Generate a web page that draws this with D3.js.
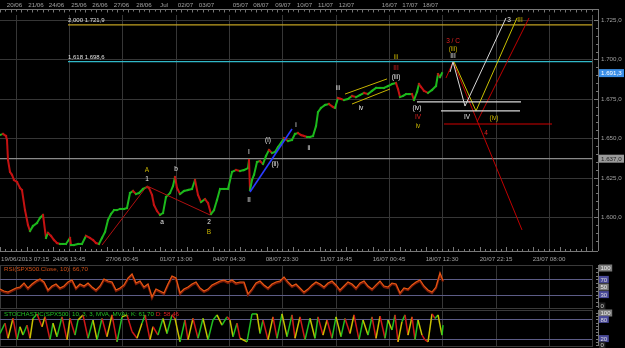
<!DOCTYPE html>
<html><head><meta charset="utf-8">
<script src="https://cdn.jsdelivr.net/npm/d3@7"></script>
<style>body{margin:0;background:#000}svg{display:block;will-change:transform}text{font-family:"Liberation Sans",Arial,sans-serif}</style>
</head><body><svg id="c" width="625" height="348"></svg>
<script>
// ---------- DATA ----------
const priceBars = [0,3,6,7,8,10,12,14,17,20,22,25,28,30,33,37,40,43,46,48,51,54,57,60,63,66,70,71,74,78,82,86,90,93,96,99,102,105,108,111,114,117,120,124,127,130,133,136,139,143,147,149,152,154,157,160,163,166,170,173,175,177,180,184,188,192,195,198,201,205,208,211,214,217,220,224,228,232,236,240,244,248,249,250,252,254,257,260,263,266,269,272,275,278,281,284,288,292,295,298,301,304,307,310,313,316,318,321,325,329,333,335,338,341,344,348,352,356,360,364,368,372,376,380,384,388,392,396,398,400,403,406,409,412,414,417,419,421,424,428,432,436,438,440,442];
const priceClose = [1652.0,1652.7,1651.4,1648.9,1636.2,1628.6,1626.7,1623.5,1622.2,1618.4,1617.1,1604.4,1594.9,1591.1,1594.3,1596.2,1599.4,1601.3,1586.7,1589.9,1588.0,1585.4,1583.5,1582.9,1582.9,1582.9,1586.7,1582.2,1582.2,1582.9,1582.9,1588.0,1586.7,1585.4,1583.5,1582.9,1586.7,1590.5,1598.1,1601.9,1604.4,1604.4,1605.1,1605.1,1605.7,1615.2,1616.5,1614.6,1615.2,1617.8,1619.0,1618.4,1614.0,1607.6,1603.8,1601.3,1602.5,1612.7,1615.2,1619.7,1625.4,1618.4,1614.6,1616.5,1617.1,1617.8,1623.5,1614.0,1609.5,1611.4,1608.9,1601.9,1604.4,1610.8,1617.8,1617.8,1617.8,1628.6,1629.8,1629.2,1629.8,1631.1,1636.2,1617.1,1623.5,1626.7,1634.9,1635.5,1633.6,1638.7,1642.5,1640.6,1641.2,1644.4,1647.0,1650.1,1648.2,1648.9,1652.7,1653.3,1652.0,1651.4,1650.8,1650.8,1651.4,1657.7,1666.6,1669.2,1671.1,1671.7,1669.8,1669.2,1675.5,1674.9,1674.2,1674.9,1676.8,1676.1,1677.4,1678.7,1678.0,1680.0,1681.9,1681.9,1681.9,1683.1,1684.4,1685.0,1681.2,1676.1,1676.8,1678.0,1678.0,1678.0,1674.2,1679.3,1684.4,1682.5,1680.0,1678.7,1680.6,1683.1,1690.7,1688.8,1691.3];

const rsiBars = [0,4,8,12,16,20,24,28,32,36,40,44,48,52,56,60,64,68,72,76,80,84,88,92,96,100,104,108,112,116,120,124,128,132,136,140,144,148,152,156,160,164,168,172,176,180,184,188,192,196,200,204,208,212,216,220,224,228,232,236,240,244,248,252,256,260,264,268,272,276,280,284,288,292,296,300,304,308,312,316,320,324,328,332,336,340,344,348,352,356,360,364,368,372,376,380,384,388,392,396,400,404,408,412,416,420,424,428,432,436,440,443];
const rsiValues = [44.7,39.5,36.8,42.1,47.4,50.0,60.5,47.4,57.9,65.8,71.1,63.2,42.1,52.6,57.9,47.4,52.6,63.2,68.4,47.4,57.9,52.6,60.5,50.0,42.1,52.6,71.1,65.8,63.2,42.1,47.4,55.3,73.7,84.2,60.5,65.8,50.0,57.9,23.7,44.7,39.5,34.2,57.9,78.9,73.7,34.2,44.7,50.0,57.9,63.2,47.4,39.5,44.7,55.3,60.5,65.8,68.4,63.2,68.4,60.5,63.2,63.2,31.6,44.7,60.5,65.8,55.3,47.4,57.9,63.2,65.8,76.3,63.2,52.6,57.9,47.4,36.8,44.7,55.3,63.2,57.9,50.0,60.5,65.8,55.3,42.1,52.6,63.2,57.9,47.4,60.5,65.8,52.6,44.7,55.3,65.8,52.6,50.0,60.5,57.9,34.2,47.4,44.7,55.3,63.2,68.4,52.6,42.1,36.8,50.0,86.8,66.7];

const stochBars = [0,5,8,13,17,20,23,27,30,33,37,42,45,50,53,57,62,67,70,75,78,83,88,93,97,102,107,112,117,122,127,132,137,142,145,150,153,158,163,167,172,175,180,185,188,193,198,203,208,213,217,222,227,230,233,237,240,247,252,257,260,263,268,273,277,282,287,292,295,300,305,310,315,318,323,327,332,336,341,345,350,354,359,363,368,372,376,380,385,388,392,395,398,402,405,408,412,415,418,422,425,428,432,435,438,442,443];
const stochK = [36,68,21,83,16,57,31,62,21,83,97,57,88,16,68,26,88,16,83,31,78,94,21,78,16,83,26,94,10,88,94,42,21,68,94,16,57,31,83,36,94,83,10,78,16,83,21,83,16,78,94,62,88,78,26,68,21,10,97,97,36,78,16,88,21,97,26,94,21,88,16,83,21,88,31,78,21,88,26,83,36,94,16,78,31,88,21,90,21,78,47,94,10,73,94,31,88,16,78,31,16,10,97,83,94,31,62];

const gridBars = [16,69,122,176,229,282,336,389,442,496,549];
const gridLabels = ["19/06/2013 07:15","24/06 13:45","27/06 00:45","01/07 13:00","04/07 04:30","08/07 23:30","11/07 18:45","16/07 00:45","18/07 12:30","20/07 22:15","23/07 08:00"];
const dayBars = [14.5,36,56.5,79,100,121.5,144,164,185.5,206.5,240.5,261,283,304.5,325.5,346.5,389.5,410,430.5];
const dayLabels = ["20/06","21/06","24/06","25/06","26/06","27/06","28/06","Jul","02/07","03/07","05/07","08/07","09/07","10/07","11/07","12/07","16/07","17/07","18/07"];
const priceTicks = [1600,1625,1650,1675,1700,1725];

const fibRatios = ["2,000","1,618"];
const fibValues = [1721.9,1698.6];
const fibColors = ["#c0a020","#30b8c8"];
const fibStartBar = 68;
const supportLevel = 1637.0;
const lastPrice = 1691.3;

// annotation paths, [bar, price]
const redABPath = [[102,1582.2],[147,1619.7],[210,1601.3]];
const blueLine = [[250,1615.9],[292,1655.8]];
const channelUpper = [[345,1678.0],[387,1687.6]];
const channelLower = [[352,1671.7],[390,1681.2]];
const whiteProj = [[450,1692.0],[453,1698.4],[465,1670.4],[506,1726.3]];
const yellowProj = [[454,1698.4],[476,1667.3],[517,1726.3]];
const redProjDown = [[446,1688.2],[453,1698.4],[522,1591.8]];
const redProjUp = [[477,1660.3],[529,1726.3]];
const whiteLevels = [[417,521,1673.0],[441,520,1667.3]];
const redLevels = [[444,552,1659.0]];

const W="#e6e6e6", Y="#c8b400", R="#e02020";
const waveLabels = [
 [147,1629.8,"A",Y],[147,1624.1,"1",W],[176,1630.5,"b",W],[162,1596.8,"a",W],[209,1596.8,"2",W],[209,1590.5,"B",Y],
 [249,1641.2,"I",W],[249,1610.8,"II",W],[268,1648.9,"(i)",W],[275,1633.6,"(ii)",W],[296,1658.4,"i",W],[309,1643.8,"ii",W],
 [338,1681.9,"iii",W],[361,1669.2,"iv",W],[396,1701.5,"iii",Y],[396,1694.5,"III",R],[396,1688.8,"(iii)",W],
 [417,1669.2,"(iv)",W],[418,1663.5,"IV",R],[418,1657.7,"iv",Y],
 [453,1711.7,"3 / C",R],[453,1706.6,"(iii)",Y],[453,1702.2,"III",W],[509,1725.0,"3",W],[520,1725.0,"III",Y],
 [467,1663.5,"IV",W],[494,1662.8,"(iv)",Y],[486,1653.3,"4",R]
];

// ---------- CHART ----------
const svg = d3.select('#c');
svg.append('rect').attr('width',625).attr('height',348).attr('fill','#000');
const PR = 592, AX = 598;
const TOP = 15, BOT = 251;
const x = d3.scaleLinear().domain([0,592]).range([0,592]);
const y = d3.scaleLinear().domain([1600,1725]).range([217,20]);
const yr = d3.scaleLinear().domain([0,100]).range([306,268]);
const ys = d3.scaleLinear().domain([0,100]).range([345,313]);
const loc = d3.formatLocale({decimal:",",thousands:".",grouping:[3],currency:["",""]});
const fmt = loc.format(",.1f");
const axisCol = "#a0a0a0", gridCol = "#363636";

const defs = svg.append('defs');
defs.append('clipPath').attr('id','mainclip').append('rect').attr('x',0).attr('y',TOP).attr('width',PR).attr('height',BOT-TOP);

// top ruler
svg.append('line').attr('x1',0).attr('x2',AX).attr('y1',9.5).attr('y2',9.5).attr('stroke','#777');
svg.append('g').selectAll('line').data(d3.range(0,PR,5.33)).join('line')
  .attr('x1',d=>Math.round(d)+0.5).attr('x2',d=>Math.round(d)+0.5).attr('y1',9.5).attr('y2',(d,i)=>i%2?11.5:12.5).attr('stroke','#777');
svg.append('g').selectAll('text').data(dayLabels).join('text')
  .attr('x',(d,i)=>x(dayBars[i])).attr('y',6.5).attr('text-anchor','middle')
  .attr('font-size',6.2).attr('fill',axisCol).text(d=>d);

// main grid
const main = svg.append('g');
main.selectAll('line.vg').data(gridBars).join('line').attr('class','vg')
  .attr('x1',d=>Math.round(x(d))+0.5).attr('x2',d=>Math.round(x(d))+0.5).attr('y1',TOP).attr('y2',BOT).attr('stroke',gridCol);
main.selectAll('line.hg').data(priceTicks).join('line').attr('class','hg')
  .attr('x1',0).attr('x2',PR).attr('y1',d=>Math.round(y(d))+0.5).attr('y2',d=>Math.round(y(d))+0.5).attr('stroke',gridCol);
main.append('line').attr('x1',PR+0.5).attr('x2',PR+0.5).attr('y1',TOP).attr('y2',BOT).attr('stroke','#555');

// right price axis
const axG = svg.append('g');
axG.append('line').attr('x1',AX+0.5).attr('x2',AX+0.5).attr('y1',9).attr('y2',BOT).attr('stroke','#777');
axG.selectAll('line.t').data(d3.range(1585,1730,5)).join('line').attr('class','t')
  .attr('x1',d=>d%25===0?AX-4:AX-2).attr('x2',AX).attr('y1',d=>Math.round(y(d))+0.5).attr('y2',d=>Math.round(y(d))+0.5).attr('stroke','#777');
axG.selectAll('text').data(priceTicks).join('text')
  .attr('x',AX+3).attr('y',d=>y(d)+2).attr('font-size',6.2).attr('fill',axisCol).text(d=>fmt(d));

// bottom ruler
svg.append('line').attr('x1',0).attr('x2',AX).attr('y1',BOT+0.5).attr('y2',BOT+0.5).attr('stroke','#777');
svg.append('g').selectAll('line').data(d3.range(0,PR,5.33)).join('line')
  .attr('x1',d=>Math.round(d)+0.5).attr('x2',d=>Math.round(d)+0.5).attr('y1',BOT).attr('y2',(d,i)=>i%5===0?BOT-4:BOT-2).attr('stroke','#777');
svg.append('g').selectAll('text').data(gridLabels).join('text')
  .attr('x',(d,i)=>i===0?1:x(gridBars[i])).attr('y',261).attr('text-anchor',(d,i)=>i===0?'start':'middle')
  .attr('font-size',6.2).attr('fill',axisCol).text(d=>d);

// plot content clipped
const pc = svg.append('g').attr('clip-path','url(#mainclip)');
const lineGen = d3.line().x(d=>x(d[0])).y(d=>y(d[1]));

// fib + support
fibValues.forEach((v,i)=>{
  pc.append('line').attr('x1',x(fibStartBar)).attr('x2',PR).attr('y1',y(v)).attr('y2',y(v)).attr('stroke',fibColors[i]).attr('stroke-width',1.2);
  pc.append('text').attr('x',x(fibStartBar)).attr('y',y(v)-2.5).attr('font-size',6).attr('fill','#e0e0e0')
    .text(fibRatios[i]+" "+fmt(v));
});
pc.append('line').attr('x1',0).attr('x2',PR).attr('y1',y(supportLevel)).attr('y2',y(supportLevel)).attr('stroke','#8a8a8a').attr('stroke-width',1.2);

// price series
const segs = d3.pairs(priceBars.map((b,i)=>[b,priceClose[i]]));
pc.append('g').selectAll('line').data(segs).join('line')
  .attr('x1',d=>x(d[0][0])).attr('y1',d=>y(d[0][1])).attr('x2',d=>x(d[1][0])).attr('y2',d=>y(d[1][1]))
  .attr('stroke',d=>d[1][1]>=d[0][1]?'#1cb81c':'#c41212').attr('stroke-width',2).attr('stroke-linecap','square');

// annotation lines
function path(pts,col,w){pc.append('path').attr('d',lineGen(pts)).attr('fill','none').attr('stroke',col).attr('stroke-width',w||1);}
path(redABPath,'#b01010',1);
path(blueLine,'#2a3cff',1.6);
path(channelUpper,'#c8b400',1);
path(channelLower,'#c8b400',1);
path(redProjDown,'#c00000',1);
path(redProjUp,'#c00000',1);
path(yellowProj,'#c8c000',1);
path(whiteProj,'#d8d8d8',1);
whiteLevels.forEach(l=>pc.append('line').attr('x1',x(l[0])).attr('x2',x(l[1])).attr('y1',y(l[2])).attr('y2',y(l[2])).attr('stroke','#d8d8d8').attr('stroke-width',1.2));
redLevels.forEach(l=>pc.append('line').attr('x1',x(l[0])).attr('x2',x(l[1])).attr('y1',y(l[2])).attr('y2',y(l[2])).attr('stroke','#d00000').attr('stroke-width',1.2));

// wave labels
pc.append('g').selectAll('text').data(waveLabels).join('text')
  .attr('x',d=>x(d[0])).attr('y',d=>y(d[1])).attr('dy','0.35em').attr('text-anchor','middle')
  .attr('font-size',6.5).attr('fill',d=>d[3]).text(d=>d[2]);

// value boxes on the axis
function box(v,bg,fg){
  const g=svg.append('g');
  g.append('rect').attr('x',AX+1).attr('y',y(v)-4).attr('width',25).attr('height',8).attr('fill',bg);
  g.append('text').attr('x',AX+3).attr('y',y(v)+2.3).attr('font-size',6.2).attr('fill',fg).text(fmt(v));
}
box(lastPrice,'#3a8ee6','#ffffff');
box(supportLevel,'#9a9a9a','#202020');

// ---------- SUB PANELS ----------
function panel(top,bot,scale,levels,labels){
  const g=svg.append('g');
  g.append('rect').attr('x',0.5).attr('y',top+0.5).attr('width',PR).attr('height',bot-top).attr('fill','none').attr('stroke','#3a3a3a');
  g.selectAll('line.vg').data(gridBars).join('line').attr('class','vg')
    .attr('x1',d=>Math.round(x(d))+0.5).attr('x2',d=>Math.round(x(d))+0.5).attr('y1',top).attr('y2',bot).attr('stroke',gridCol);
  g.selectAll('line.lv').data(levels).join('line').attr('class','lv')
    .attr('x1',0).attr('x2',PR).attr('y1',d=>Math.round(scale(d))+0.5).attr('y2',d=>Math.round(scale(d))+0.5).attr('stroke','#5c5c86').attr('stroke-width',1);
  g.append('line').attr('x1',AX+0.5).attr('x2',AX+0.5).attr('y1',top).attr('y2',bot).attr('stroke','#777');
  g.selectAll('line.tk').data(d3.range(0,101,10)).join('line').attr('class','tk')
    .attr('x1',AX-2).attr('x2',AX).attr('y1',d=>Math.round(scale(d))+0.5).attr('y2',d=>Math.round(scale(d))+0.5).attr('stroke','#777');
  labels.forEach(l=>{
    const w = String(l[0]).length*3.4+3;
    g.append('rect').attr('x',AX+1).attr('y',scale(l[0])-3.5).attr('width',w).attr('height',7).attr('fill',l[1]);
    g.append('text').attr('x',AX+2.5).attr('y',scale(l[0])+2.2).attr('font-size',6).attr('fill',l[2]).text(l[0]);
  });
  return g;
}
const rsiLevels=[70,30], stochLevels=[80,20];
panel(265,308,yr,rsiLevels,[[100,'#7a7a7a','#eee'],[70,'#4a4a9a','#ddd'],[50,'#7a7a7a','#eee'],[30,'#4a4a9a','#ddd'],[0,'#222','#ccc']]);
panel(310,346,ys,stochLevels,[[100,'#7a7a7a','#eee'],[80,'#4a4a9a','#ddd'],[20,'#4a4a9a','#ddd'],[0,'#222','#ccc']]);

// RSI line
svg.append('path').attr('d',d3.line().x((d,i)=>x(rsiBars[i])).y(d=>yr(d))(rsiValues))
  .attr('fill','none').attr('stroke','#7a1a08').attr('stroke-width',2.2).attr('transform','translate(0,1)');
svg.append('path').attr('d',d3.line().x((d,i)=>x(rsiBars[i])).y(d=>yr(d))(rsiValues))
  .attr('fill','none').attr('stroke','#e85a14').attr('stroke-width',1.1);
svg.append('text').attr('x',4).attr('y',271).attr('font-size',6.2).attr('fill','#d05018').text('RSI(SPX500.Close, 10): 66,70');

// Stochastic
const ssegs = d3.pairs(stochBars.map((b,i)=>[b,stochK[i]]));
svg.append('g').selectAll('line').data(ssegs).join('line')
  .attr('x1',d=>x(d[0][0])).attr('y1',d=>ys(d[0][1])).attr('x2',d=>x(d[1][0])).attr('y2',d=>ys(d[1][1]))
  .attr('stroke',(d,i)=>i%3===2?'#c8c000':(d[1][1]>=d[0][1]?'#22c022':'#d01818')).attr('stroke-width',1.5);
const st = svg.append('text').attr('x',4).attr('y',315.5).attr('font-size',6.2);
st.append('tspan').attr('fill','#22c022').text('STOCHASTIC(SPX500, 10, 3, 3, MVA, MVA): K: 61,70 ');
st.append('tspan').attr('fill','#e02020').text('D: 58,46');
</script></body></html>
